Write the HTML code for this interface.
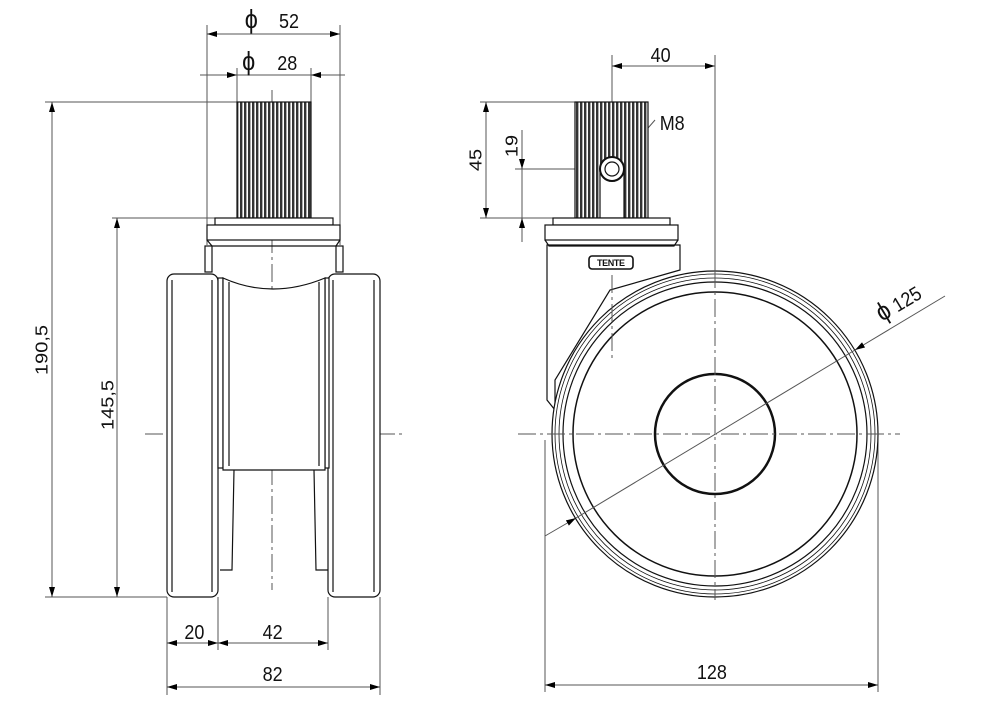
<!DOCTYPE html>
<html><head><meta charset="utf-8"><style>
html,body{margin:0;padding:0;background:#fff}
svg{display:block}
text{font-family:"Liberation Sans",sans-serif;font-size:20px;fill:#111}
</style></head><body>
<svg width="1000" height="707" viewBox="0 0 1000 707" xmlns="http://www.w3.org/2000/svg">
<defs>
<pattern id="rib" width="4" height="10" patternUnits="userSpaceOnUse">
<rect width="4" height="10" fill="#fff"/><rect width="2.4" height="10" fill="#333"/>
</pattern>
<marker id="a" viewBox="0 0 10 6" refX="10" refY="3" markerWidth="10" markerHeight="6" markerUnits="userSpaceOnUse" orient="auto-start-reverse"><path d="M0,0L10,3L0,6z" fill="#000"/></marker>
</defs>
<g stroke="#555" stroke-width="1" fill="none">
<line x1="207" y1="25" x2="207" y2="245"/><line x1="340" y1="25" x2="340" y2="245"/>
<line x1="207" y1="34" x2="340" y2="34" marker-start="url(#a)" marker-end="url(#a)"/>
<line x1="237" y1="68" x2="237" y2="102"/><line x1="311" y1="68" x2="311" y2="102"/>
<line x1="200" y1="75" x2="237" y2="75" marker-end="url(#a)"/><line x1="345" y1="75" x2="311" y2="75" marker-end="url(#a)"/>
<line x1="237" y1="75" x2="311" y2="75"/>
<line x1="45" y1="102" x2="237" y2="102"/><line x1="112" y1="218" x2="237" y2="218"/><line x1="45" y1="597" x2="167" y2="597"/>
<line x1="52" y1="102" x2="52" y2="597" marker-start="url(#a)" marker-end="url(#a)"/>
<line x1="117" y1="218" x2="117" y2="597" marker-start="url(#a)" marker-end="url(#a)"/>
<line x1="167" y1="597" x2="167" y2="695"/><line x1="218" y1="597" x2="218" y2="650"/>
<line x1="328" y1="597" x2="328" y2="650"/><line x1="380" y1="597" x2="380" y2="695"/>
<line x1="167" y1="643" x2="218" y2="643" marker-start="url(#a)" marker-end="url(#a)"/>
<line x1="218" y1="643" x2="328" y2="643" marker-start="url(#a)" marker-end="url(#a)"/>
<line x1="167" y1="687" x2="380" y2="687" marker-start="url(#a)" marker-end="url(#a)"/>
<line x1="145" y1="434" x2="405" y2="434" stroke-dasharray="18,4,3,4"/>
<line x1="272" y1="90" x2="272" y2="590" stroke-dasharray="18,4,3,4"/>
<line x1="612" y1="55" x2="612" y2="102"/>
<line x1="612" y1="66" x2="715" y2="66" marker-start="url(#a)" marker-end="url(#a)"/>
<line x1="715" y1="55" x2="715" y2="275"/>
<line x1="480" y1="102" x2="575" y2="102"/><line x1="480" y1="218" x2="575" y2="218"/><line x1="515" y1="169" x2="612" y2="169"/>
<line x1="486" y1="102" x2="486" y2="218" marker-start="url(#a)" marker-end="url(#a)"/>
<line x1="522" y1="130" x2="522" y2="169" marker-end="url(#a)"/>
<line x1="522" y1="242" x2="522" y2="218" marker-end="url(#a)"/>
<line x1="522" y1="169" x2="522" y2="218"/>
<line x1="655" y1="120" x2="622" y2="158" marker-end="url(#a)"/>
<line x1="545" y1="440" x2="545" y2="692"/><line x1="878" y1="434" x2="878" y2="692"/>
<line x1="545" y1="685" x2="878" y2="685" marker-start="url(#a)" marker-end="url(#a)"/>
<line x1="545" y1="536" x2="576" y2="518" marker-end="url(#a)"/>
<line x1="945" y1="296" x2="855" y2="350" marker-end="url(#a)"/>
</g>
<g stroke="#111" stroke-width="1.2" fill="#fff">
<rect x="237" y="102" width="74" height="116" fill="url(#rib)"/>
<rect x="215" y="218" width="118" height="7"/>
<rect x="207" y="225" width="133" height="15"/>
<path d="M207,240 L212,246 L336,246 L340,240" fill="none"/>
<rect x="205" y="246" width="7" height="26"/><rect x="336" y="246" width="7" height="26"/>
<rect x="167" y="274" width="51" height="323" rx="7"/>
<rect x="328" y="274" width="52" height="323" rx="7"/>
<line x1="172" y1="280" x2="172" y2="592"/><line x1="212" y1="280" x2="212" y2="592"/>
<line x1="333" y1="280" x2="333" y2="592"/><line x1="374" y1="280" x2="374" y2="592"/>
<rect x="218" y="278" width="5" height="190"/><rect x="325" y="278" width="4" height="190"/>
<path d="M223,278 Q272,300 325,278 L325,470 L223,470 Z"/>
<line x1="229" y1="282" x2="229" y2="466"/><line x1="319" y1="282" x2="319" y2="466"/>
<path d="M234,470 L232,570 L220,570 M314,470 L316,570 L328,570" fill="none"/>
<path d="M547,245 L547,400 L555,410 L555,380 L610,290 L680,270 L680,245 Z"/>
<rect x="575" y="102" width="73" height="116" fill="url(#rib)"/>
<rect x="600" y="169" width="24" height="49" fill="#fff"/>
<circle cx="612" cy="169" r="12" stroke-width="2"/><circle cx="612" cy="169" r="7"/>
<rect x="553" y="218" width="117" height="7"/>
<rect x="545" y="225" width="133" height="15"/>
<path d="M545,240 L549,246 L674,246 L678,240" fill="none"/>
<rect x="589" y="256" width="44" height="13" rx="3" stroke-width="1.6"/>
<circle cx="715" cy="434" r="163"/>
<circle cx="715" cy="434" r="160" fill="none" stroke-width="0.8"/>
<circle cx="715" cy="434" r="156" fill="none" stroke-width="0.8"/>
<circle cx="715" cy="434" r="152" fill="none"/>
<circle cx="715" cy="434" r="142" fill="none" stroke-width="1.5"/>
<circle cx="715" cy="434" r="60" fill="none" stroke-width="2.5"/>
<line x1="612" y1="275" x2="612" y2="360" stroke="#555" stroke-dasharray="18,4,3,4" stroke-width="1"/>
<line x1="715" y1="270" x2="715" y2="600" stroke="#555" stroke-dasharray="18,4,3,4" stroke-width="1" fill="none"/>
<line x1="518" y1="434" x2="900" y2="434" stroke="#555" stroke-dasharray="18,4,3,4" stroke-width="1"/>
<line x1="576" y1="518" x2="855" y2="350" stroke="#555" stroke-width="1"/>
</g>
<text x="597" y="266" style="font-size:9px;font-weight:bold" textLength="28">TENTE</text>
<g transform="scale(0.9,1)">
<text x="272" y="28" style="font-size:26px">ϕ</text><text x="310" y="28">52</text>
<text x="269" y="70" style="font-size:26px">ϕ</text><text x="308" y="70">28</text>
<text transform="translate(53,350) rotate(-90)" text-anchor="middle">190,5</text>
<text transform="translate(126,405) rotate(-90)" text-anchor="middle">145,5</text>
<text x="216" y="639" text-anchor="middle">20</text>
<text x="303" y="639" text-anchor="middle">42</text>
<text x="303" y="681" text-anchor="middle">82</text>
<text x="734" y="62" text-anchor="middle">40</text>
<text transform="translate(535,160) rotate(-90)" text-anchor="middle">45</text>
<text transform="translate(575,146) rotate(-90)" text-anchor="middle">19</text>
<text x="733" y="130">M8</text>
<text x="791" y="679" text-anchor="middle">128</text>
</g>
<text transform="translate(882,322) rotate(-31) scale(0.9,1)"><tspan style="font-size:26px">ϕ</tspan> 125</text>
</svg>
</body></html>
